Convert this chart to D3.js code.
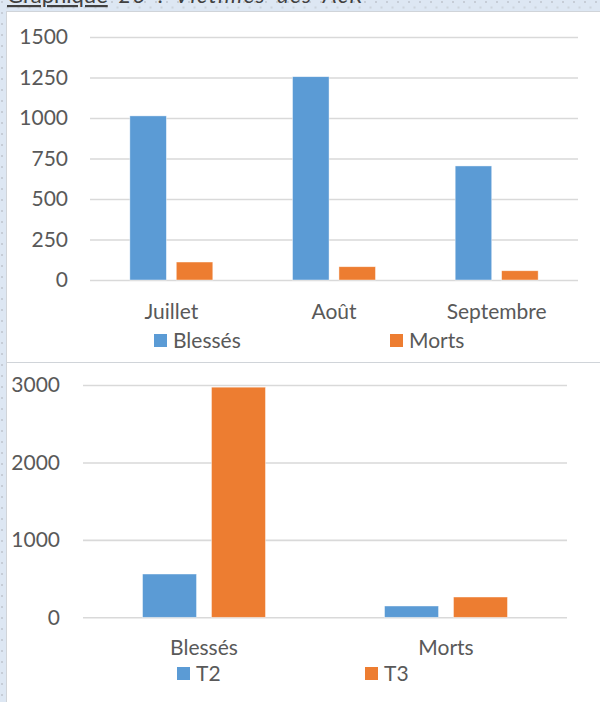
<!DOCTYPE html>
<html>
<head>
<meta charset="utf-8">
<script src="https://cdn.jsdelivr.net/npm/d3@7"></script>
<style>
  html, body { margin: 0; padding: 0; background: #dde7f3; }
  svg { display: block; }
  text { font-family: Lato, "Open Sans", sans-serif; fill: #595959; }
</style>
</head>
<body>
<svg id="chart" width="600" height="702"></svg>
<script>
// Chart 1 : victimes par mois
var months = ['Juillet', 'Août', 'Septembre'];
var series1 = ['Blessés', 'Morts'];
var blesses = [1013, 1255, 704];
var morts = [111, 82, 57];
var ticks1 = [0, 250, 500, 750, 1000, 1250, 1500];

// Chart 2 : par trimestre
var categories2 = ['Blessés', 'Morts'];
var series2 = ['T2', 'T3'];
var t2 = [559, 146];
var t3 = [2972, 262];
var ticks2 = [0, 1000, 2000, 3000];

var colors = ['#5b9bd5', '#ed7d31'];
var fontSize = '21px';

var svg = d3.select('#chart');

// dotted page background
var defs = svg.append('defs');
var pat = defs.append('pattern')
    .attr('id', 'dots')
    .attr('width', 11).attr('height', 11)
    .attr('patternUnits', 'userSpaceOnUse');
pat.append('rect').attr('width', 11).attr('height', 11).attr('fill', '#dde7f3');
pat.append('rect').attr('x', 1).attr('y', 1).attr('width', 2).attr('height', 2).attr('fill', '#c6cdd7');
pat.append('rect').attr('x', 6.5).attr('y', 6.5).attr('width', 2).attr('height', 2).attr('fill', '#ccd3dc');
svg.append('rect').attr('width', 600).attr('height', 702).attr('fill', 'url(#dots)');

// title, cut at the top like in the document
var title = svg.append('text')
    .attr('x', 7).attr('y', 3)
    .style('font-size', '22px')
    .style('fill', '#404040');
title.append('tspan').text('Graphique').style('text-decoration', 'underline');
title.append('tspan').text(' 23 : Victimes des AcR')
    .style('font-style', 'italic')
    .style('letter-spacing', '1.6px')
    .style('word-spacing', '4px');

function barChart(opt) {
    var g = svg.append('g');

    // white panel
    g.append('rect')
        .attr('x', opt.panel[0] + 0.5).attr('y', opt.panel[1] + 0.5)
        .attr('width', opt.panel[2]).attr('height', opt.panel[3])
        .attr('fill', '#fff')
        .attr('stroke', '#d0d4d9');

    var x0 = d3.scaleBand()
        .domain(opt.categories)
        .range([opt.left, opt.right])
        .paddingInner(opt.padInner)
        .paddingOuter(opt.padInner / 2);
    var x1 = d3.scaleBand()
        .domain(opt.series)
        .range([0, x0.bandwidth()])
        .paddingInner(opt.barGap);
    var y = d3.scaleLinear()
        .domain([0, opt.max])
        .range([opt.bottom, opt.top]);

    // gridlines + tick labels
    var yAxis = g.append('g')
        .attr('transform', 'translate(' + opt.left + ',0)')
        .call(d3.axisLeft(y)
            .tickValues(opt.ticks)
            .tickFormat(d3.format('d'))
            .tickSize(-(opt.right - opt.left))
            .tickPadding(opt.labelPad));
    yAxis.select('.domain').remove();
    yAxis.selectAll('line').attr('stroke', '#d9d9d9').attr('stroke-width', 1.6);
    yAxis.selectAll('text')
        .attr('font-family', null)
        .style('font-size', fontSize)
        .style('fill', '#595959');

    // bars
    var groups = g.selectAll('.grp')
        .data(opt.categories)
        .enter().append('g')
            .attr('class', 'grp')
            .attr('transform', function(d) { return 'translate(' + x0(d) + ',0)'; });

    groups.selectAll('rect')
        .data(function(d, i) {
            return opt.series.map(function(s, j) { return { key: s, value: opt.values[j][i], idx: j }; });
        })
        .enter().append('rect')
            .attr('x', function(d) { return x1(d.key); })
            .attr('y', function(d) { return y(d.value); })
            .attr('width', x1.bandwidth())
            .attr('height', function(d) { return y(0) - y(d.value); })
            .attr('fill', function(d) { return colors[d.idx]; })
            .attr('stroke', '#fff')
            .attr('stroke-opacity', 0.6)
            .attr('stroke-width', 0.7);

    // category labels
    var xAxis = g.append('g')
        .attr('transform', 'translate(0,' + opt.bottom + ')')
        .call(d3.axisBottom(x0).tickSize(0));
    xAxis.select('.domain').remove();
    xAxis.selectAll('text')
        .attr('font-family', null)
        .attr('y', opt.catBaseline - opt.bottom)
        .attr('dy', null)
        .style('font-size', fontSize)
        .style('fill', '#595959');

    // legend
    var leg = g.selectAll('.leg')
        .data(opt.series)
        .enter().append('g')
            .attr('class', 'leg')
            .attr('transform', function(d, i) { return 'translate(' + opt.legendX[i] + ',' + opt.legendY + ')'; });
    leg.append('rect')
        .attr('y', -14).attr('width', 13).attr('height', 13)
        .attr('fill', function(d, i) { return colors[i]; });
    leg.append('text')
        .attr('x', 19).attr('y', 0)
        .style('font-size', fontSize)
        .text(function(d) { return d; });
}

barChart({
    panel: [6, 11, 600, 351],
    categories: months, series: series1, values: [blesses, morts],
    ticks: ticks1, max: 1500,
    left: 90, right: 578, top: 37, bottom: 280,
    padInner: 0.49, barGap: 0.213, labelPad: 22,
    catBaseline: 319,
    legendX: [154, 390], legendY: 348
});

barChart({
    panel: [6, 362, 600, 345],
    categories: categories2, series: series2, values: [t2, t3],
    ticks: ticks2, max: 3000,
    left: 83, right: 567, top: 385, bottom: 617.3,
    padInner: 0.492, barGap: 0.217, labelPad: 23,
    catBaseline: 655,
    legendX: [177, 365], legendY: 681
});
</script>
</body>
</html>
